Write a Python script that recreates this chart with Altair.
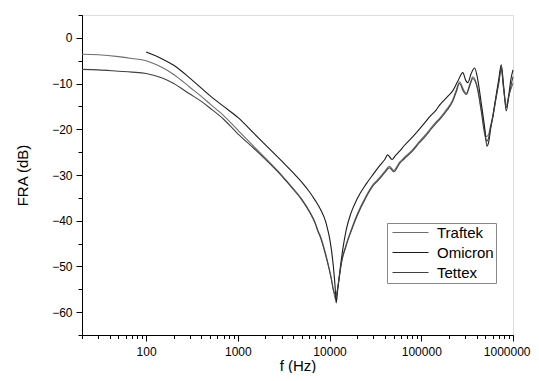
import altair as alt
import pandas as pd

# ---- data ----
series_names = ["Traftek", "Omicron", "Tettex"]

# Omicron: starts at 100 Hz (upper track)
freq_omicron = [100, 150, 200, 300, 400, 500, 700, 1000, 1500, 2000, 3000, 4000, 5000, 6000,
                7000, 8000, 9000, 9560, 10000, 10500, 11000, 11500, 11800, 12300, 13000, 14000,
                15200, 17000, 20000, 25000, 30000, 35000, 40000, 43000, 48000, 52000, 58000,
                65000, 80000, 95000, 110000, 123000, 145000, 160000, 190000, 220000, 250000,
                284000, 305000, 322000, 350000, 381000, 410000, 450000, 490000, 520000, 540000,
                570000, 604000, 650000, 700000, 745000, 790000, 845000, 900000, 950000, 1000000]
db_omicron = [-3.1, -4.6, -6.0, -8.8, -11.0, -12.7, -15.0, -17.4, -20.9, -23.4, -26.9, -29.5,
              -31.6, -33.6, -35.6, -37.6, -40.0, -42.0, -43.8, -46.5, -50.0, -54.5, -58.0, -55.0,
              -50.8, -46.0, -42.0, -38.5, -35.2, -32.0, -29.8, -28.0, -26.6, -25.6, -26.6, -25.8,
              -24.8, -23.6, -21.7, -20.0, -18.5, -17.3, -15.8, -14.6, -13.0, -11.6, -9.5,
              -7.6, -9.3, -9.8, -7.8, -6.6, -8.8, -14.2, -19.5, -23.7, -23.0,
              -20.0, -17.0, -13.0, -9.0, -5.9, -10.5, -16.0, -12.5, -9.0, -7.0]

# Traftek: starts at 20 Hz near -3.5 dB (lower track at high f)
freq_traftek = [20, 30, 50, 70, 100, 150, 200, 300, 400, 500, 700, 1000, 1500, 2000, 3000, 3350,
                4000, 5000, 6000, 7000, 7430, 8000, 9000, 10000, 10500, 11000, 11600, 12200, 12800,
                13500, 15000, 17200, 20000, 25000, 30000, 33500, 40000, 45000, 50000, 58000,
                65000, 80000, 95000, 110000, 123000, 145000, 160000, 190000, 220000, 240000,
                261000, 290000, 309000, 340000, 365000, 410000, 450000, 490000, 511000, 540000,
                570000, 604000, 650000, 700000, 745000, 790000, 845000, 900000, 950000, 1000000]
db_traftek = [-3.6, -3.7, -4.1, -4.5, -5.0, -6.5, -8.0, -10.8, -12.8, -14.5, -17.0, -20.2, -23.8,
              -26.3, -30.0, -31.1, -32.9, -35.3, -37.8, -40.5, -42.0, -43.5, -47.0, -50.8, -52.8,
              -55.0, -57.2, -55.0, -52.0, -49.0, -45.5, -42.0, -38.6, -34.6, -32.0, -31.0, -29.2,
              -28.1, -29.0, -27.2, -26.2, -24.5, -22.7, -21.3, -20.1, -18.4, -17.5, -15.6, -13.6,
              -11.5, -9.6, -11.4, -12.1, -10.0, -8.5, -10.8, -15.5, -20.0, -21.6, -21.2,
              -19.2, -17.0, -13.2, -9.6, -6.5, -10.8, -14.7, -12.6, -11.2, -9.9]

# Tettex: starts at 20 Hz near -7 dB
freq_tettex = [20, 30, 50, 70, 100, 150, 200, 300, 400, 500, 700, 1000, 1500, 2000, 3000, 3350,
               4000, 5000, 6000, 7000, 7430, 8000, 9000, 10000, 10500, 11000, 11800, 12300, 12900,
               13500, 15000, 17200, 20000, 25000, 30000, 33500, 40000, 45000, 50000, 58000,
               65000, 80000, 95000, 110000, 123000, 145000, 160000, 190000, 220000, 240000,
               261000, 290000, 309000, 340000, 365000, 410000, 450000, 490000, 520000, 540000,
               570000, 604000, 650000, 700000, 745000, 790000, 845000, 900000, 950000, 1000000]
db_tettex = [-6.9, -7.0, -7.3, -7.5, -7.8, -8.8, -10.0, -12.3, -13.9, -15.4, -17.8, -21.0, -24.2,
             -26.6, -30.2, -31.3, -33.1, -35.5, -38.0, -40.7, -42.2, -43.8, -47.3, -51.0, -53.0,
             -55.2, -56.3, -54.6, -51.8, -49.2, -45.8, -42.3, -38.9, -34.9, -32.3, -31.3, -29.5,
             -28.4, -29.3, -27.5, -26.5, -24.8, -23.0, -21.6, -20.4, -18.7, -17.8, -15.9, -13.9,
             -11.9, -10.0, -11.8, -12.4, -10.3, -8.9, -11.2, -16.0, -21.0, -22.6, -22.0,
             -19.6, -17.3, -13.5, -9.9, -6.8, -11.2, -15.2, -12.9, -10.5, -8.5]

x_major = [100, 1000, 10000, 100000, 1000000]
x_minor = [20, 30, 40, 50, 60, 70, 80, 90,
           200, 300, 400, 500, 600, 700, 800, 900,
           2000, 3000, 4000, 5000, 6000, 7000, 8000, 9000,
           20000, 30000, 40000, 50000, 60000, 70000, 80000, 90000,
           200000, 300000, 400000, 500000, 600000, 700000, 800000, 900000]
y_major = [-60, -50, -40, -30, -20, -10, 0]
y_minor = [-65, -55, -45, -35, -25, -15, -5, 5]

line_colors = ["#6e6e6e", "#1a1a1a", "#404040"]

rows = []
for name, fr, db in [("Traftek", freq_traftek, db_traftek),
                     ("Omicron", freq_omicron, db_omicron),
                     ("Tettex", freq_tettex, db_tettex)]:
    for f, d in zip(fr, db):
        rows.append({"series": name, "f": f, "db": d})
df = pd.DataFrame(rows)

FONT = "Liberation Sans"

xscale = alt.Scale(type="log", domain=[20, 1000000], nice=False)
yscale = alt.Scale(domain=[-65, 5], nice=False, zero=False)

lines = alt.Chart(df).mark_line(strokeWidth=1.1, interpolate="monotone").encode(
    x=alt.X("f:Q", scale=xscale,
            axis=alt.Axis(orient="bottom", values=x_major, format="d", title="f (Hz)",
                          tickSize=6, labelPadding=5, labelFontSize=12, labelFont=FONT,
                          titleFont=FONT, titleFontSize=15, titleFontWeight="normal",
                          titlePadding=1, grid=False, domainColor="black", tickColor="black",
                          labelColor="black", titleColor="black", labelFlush=True,
                          labelFlushOffset=17, labelOverlap=False)),
    y=alt.Y("db:Q", scale=yscale,
            axis=alt.Axis(orient="left", values=y_major, title="FRA (dB)",
                          tickSize=6, labelPadding=4, labelFontSize=12, labelFont=FONT,
                          titleFont=FONT, titleFontSize=15, titleFontWeight="normal",
                          titlePadding=21, grid=False, domainColor="black", tickColor="black",
                          labelColor="black", titleColor="black")),
    color=alt.Color("series:N",
                    scale=alt.Scale(domain=series_names, range=line_colors),
                    legend=alt.Legend(title=None, orient="none", legendX=305, legendY=208,
                                      symbolType="M-4,0H4", symbolSize=81, symbolStrokeWidth=1,
                                      symbolOffset=14, labelOffset=19,
                                      labelFont=FONT, labelFontSize=15, labelColor="black",
                                      padding=2, rowPadding=4,
                                      strokeColor="#888888", fillColor="white",
                                      labelLimit=200)),
    order=alt.Order("f:Q"),
)

minor = alt.Chart(df).mark_point(opacity=0).encode(
    x=alt.X("f:Q", scale=xscale,
            axis=alt.Axis(orient="bottom", values=x_minor, labels=False, title=None,
                          tickSize=3.5, grid=False, domainColor="black", tickColor="black")),
    y=alt.Y("db:Q", scale=yscale,
            axis=alt.Axis(orient="left", values=y_minor, labels=False, title=None,
                          tickSize=4, grid=False, domainColor="black", tickColor="black")),
)

chart = alt.layer(lines, minor).resolve_axis(x="independent", y="independent").properties(
    width=431, height=320,
    padding={"left": 74, "top": 7, "right": 18, "bottom": 38},
    autosize=alt.AutoSizeParams(type="none"),
).configure_view(stroke=None).configure(background="white")

chart.save("out.html", embed_options={"renderer": "svg", "actions": False})
